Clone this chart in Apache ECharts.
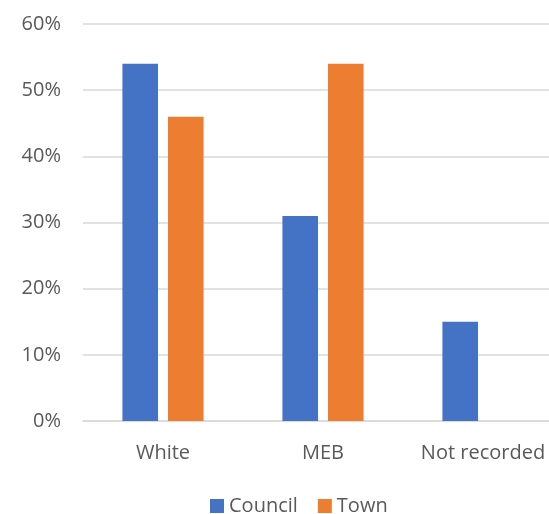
<!DOCTYPE html>
<html>
<head>
<meta charset="utf-8">
<style>
  html, body { margin: 0; padding: 0; background: #ffffff; overflow: hidden; }
  /* canvas is wider than the window so the plot area runs past the right edge */
  #chart { width: 563px; height: 514px; }
</style>
<script src="https://cdn.jsdelivr.net/npm/echarts@6/dist/echarts.min.js"></script>
</head>
<body>
<div id="chart"></div>
<script>
// Share of each group, in percent
const categories = ['White', 'MEB', 'Not recorded'];
const councilValues = [54, 31, 15];
const townValues = [46, 54, null];
const yTicks = { min: 0, max: 60, step: 10 };

const FONT = '"Open Sans", "Noto Sans", sans-serif';
const TEXT = '#595959';
const GRID = '#d9d9d9';

const chart = echarts.init(document.getElementById('chart'), null, { renderer: 'canvas' });

chart.setOption({
  animation: false,
  backgroundColor: '#ffffff',
  textStyle: { fontFamily: FONT },
  grid: { left: 83, right: 0, top: 24, bottom: 93, containLabel: false },
  legend: {
    left: 210,
    top: 496,
    itemWidth: 14,
    itemHeight: 14,
    itemGap: 20,
    padding: 0,
    icon: 'rect',
    textStyle: { color: TEXT, fontSize: 20, fontFamily: FONT },
    data: ['Council', 'Town']
  },
  xAxis: {
    type: 'category',
    data: categories,
    axisLine: { lineStyle: { color: GRID, width: 1.5 } },
    axisTick: { show: false },
    axisLabel: { color: TEXT, fontSize: 20, fontFamily: FONT, margin: 22, interval: 0 }
  },
  yAxis: {
    type: 'value',
    min: yTicks.min,
    max: yTicks.max,
    interval: yTicks.step,
    axisLine: { show: false },
    axisTick: { show: false },
    splitLine: { lineStyle: { color: GRID, width: 1.5 } },
    axisLabel: { color: TEXT, fontSize: 20, fontFamily: FONT, margin: 22, formatter: '{value}%' }
  },
  series: [
    {
      name: 'Council',
      type: 'bar',
      data: councilValues,
      barWidth: '22.25%',
      barGap: '28%',
      itemStyle: { color: '#4472c4' }
    },
    {
      name: 'Town',
      type: 'bar',
      data: townValues,
      barWidth: '22.25%',
      barGap: '28%',
      itemStyle: { color: '#ed7d31' }
    }
  ]
});
</script>
</body>
</html>
